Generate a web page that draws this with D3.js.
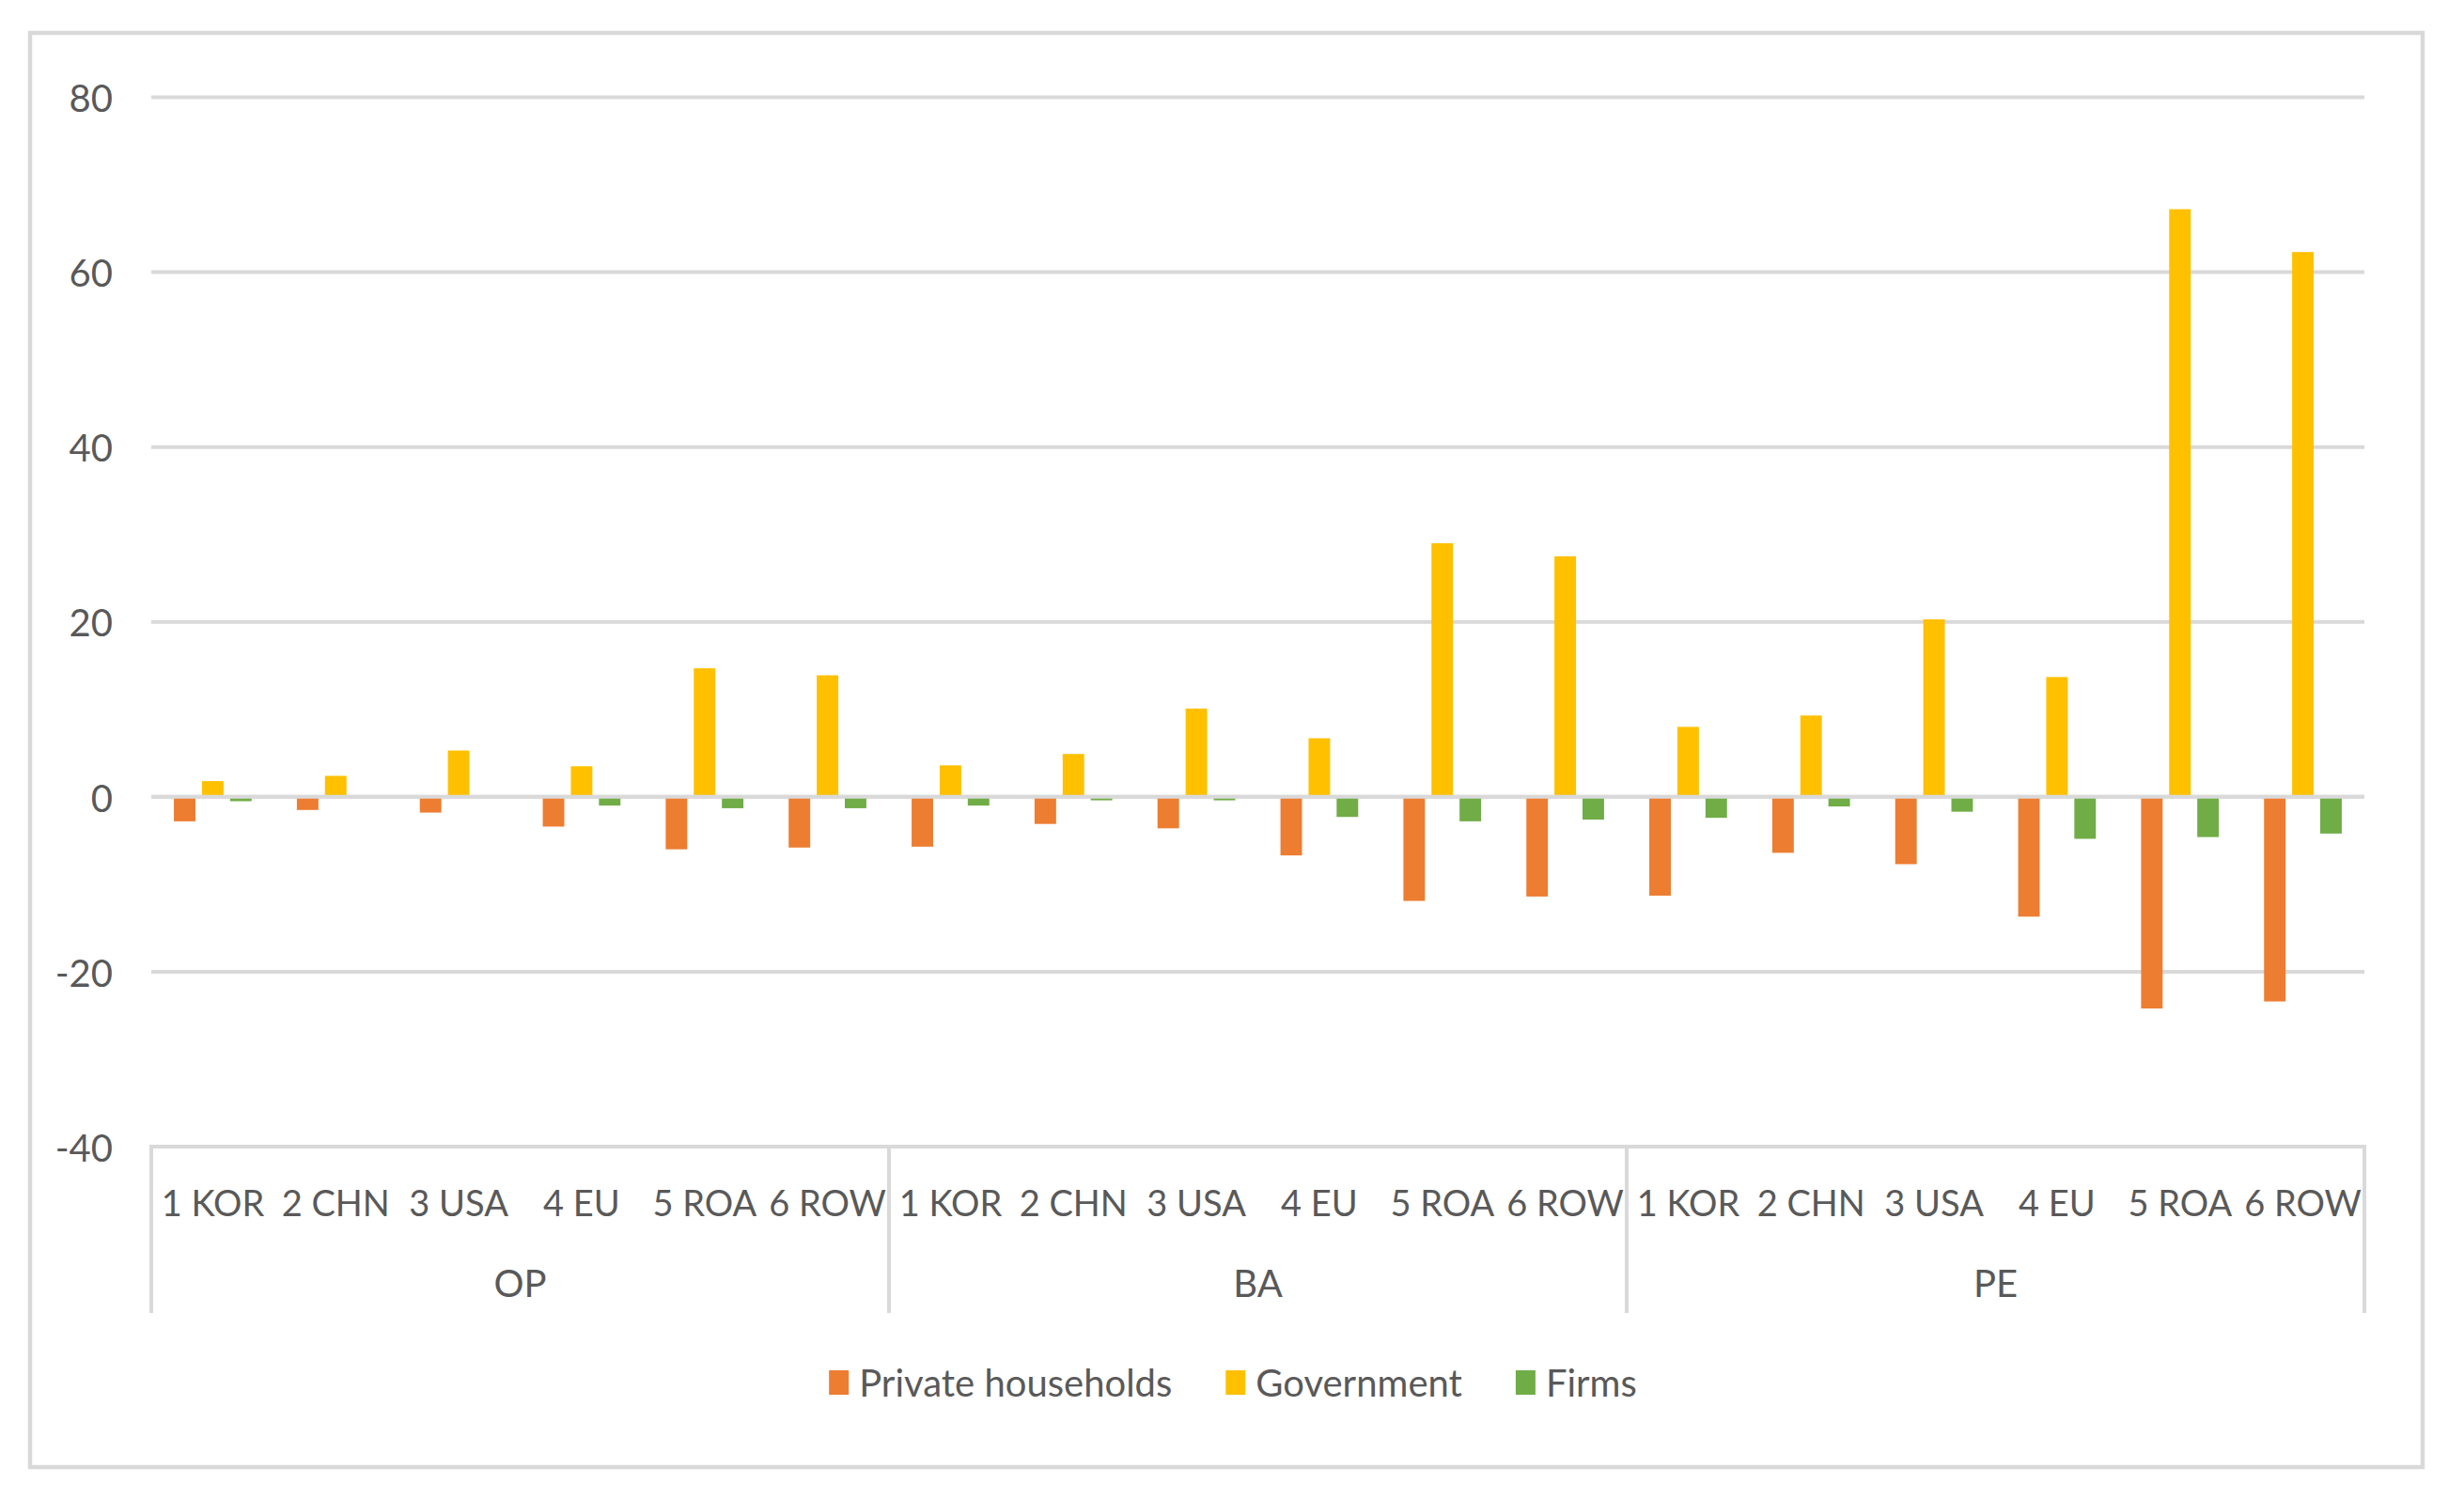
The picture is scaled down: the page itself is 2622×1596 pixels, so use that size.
<!DOCTYPE html>
<html>
<head>
<meta charset="utf-8">
<script src="https://cdn.jsdelivr.net/npm/d3@7"></script>
<style>
  html, body { margin: 0; padding: 0; background: #ffffff; }
  svg { display: block; }
  text { font-family: Lato, "Open Sans", sans-serif; fill: #595959; }
</style>
</head>
<body>
<svg id="chart" width="2622" height="1596"></svg>
<script>
// ---- data ----
const groups = ["OP", "BA", "PE"];
const countries = ["1 KOR", "2 CHN", "3 USA", "4 EU", "5 ROA", "6 ROW"];
const seriesNames = ["Private households", "Government", "Firms"];
const privateHouseholds = [
  -2.8, -1.5, -1.8, -3.4, -6.0, -5.8,
  -5.7, -3.1, -3.6, -6.7, -11.9, -11.4,
  -11.3, -6.4, -7.7, -13.7, -24.2, -23.4
];
const government = [
  1.8, 2.4, 5.3, 3.5, 14.7, 13.9,
  3.6, 4.9, 10.1, 6.7, 29.0, 27.5,
  8.0, 9.3, 20.3, 13.7, 67.2, 62.3
];
const firms = [
  -0.5, -0.1, -0.1, -1.0, -1.3, -1.3,
  -1.0, -0.4, -0.4, -2.3, -2.8, -2.6,
  -2.4, -1.1, -1.7, -4.8, -4.6, -4.2
];
const yTicks = [-40, -20, 0, 20, 40, 60, 80];
const colors = ["#ED7D31", "#FFC000", "#70AD47"];

// ---- build ----
const svg = d3.select("#chart");
const W = 2622, H = 1596;
const plot = { left: 161, right: 2516, top: 103.5, bottom: 1220 };

svg.append("rect").attr("x", 0).attr("y", 0).attr("width", W).attr("height", H).attr("fill", "#fff");
svg.append("rect")
  .attr("x", 32).attr("y", 35).attr("width", 2546).attr("height", 1526)
  .attr("fill", "none").attr("stroke", "#d9d9d9").attr("stroke-width", 4.5);

const categories = [];
groups.forEach(g => countries.forEach(c => categories.push(g + "|" + c)));
const values = [privateHouseholds, government, firms];

const y = d3.scaleLinear().domain([-40, 80]).range([plot.bottom, plot.top]);
const x0 = d3.scaleBand().domain(categories).range([plot.left, plot.right])
  .paddingInner(0.368).paddingOuter(0.184);
const x1 = d3.scaleBand().domain(seriesNames).range([0, x0.bandwidth()]).paddingInner(0.233);

// gridlines
const grid = svg.append("g");
grid.selectAll("line").data(yTicks).join("line")
  .attr("x1", plot.left).attr("x2", plot.right)
  .attr("y1", d => y(d)).attr("y2", d => y(d))
  .attr("stroke", "#d9d9d9").attr("stroke-width", 4);

// y-axis labels
const yAxis = d3.axisLeft(y).tickValues(yTicks).tickSize(0).tickPadding(0)
  .tickFormat(d => String(d));
const yg = svg.append("g").attr("transform", `translate(${plot.left - 41},0)`).call(yAxis);
yg.select(".domain").remove();
yg.selectAll("text").attr("font-size", 40).attr("dy", "0.38em")
  .style("font-family", "Lato, 'Open Sans', sans-serif").attr("fill", "#595959");

// bars
const barsG = svg.append("g");
categories.forEach((cat, i) => {
  seriesNames.forEach((s, k) => {
    const v = values[k][i];
    barsG.append("rect")
      .attr("x", x0(cat) + x1(s))
      .attr("width", x1.bandwidth())
      .attr("y", y(Math.max(0, v)))
      .attr("height", Math.abs(y(v) - y(0)))
      .attr("fill", colors[k]);
  });
});

// zero line on top
svg.append("line")
  .attr("x1", plot.left).attr("x2", plot.right)
  .attr("y1", y(0)).attr("y2", y(0))
  .attr("stroke", "#d9d9d9").attr("stroke-width", 4);

// category axis (multi-level)
const xAxis = d3.axisBottom(x0).tickSize(0).tickPadding(0).tickFormat(d => d.split("|")[1]);
const xg = svg.append("g").attr("transform", `translate(0,${plot.bottom})`).call(xAxis);
xg.select(".domain").remove();
xg.selectAll("text").attr("font-size", 38).attr("y", 74).attr("dy", 0)
  .style("font-family", "Lato, 'Open Sans', sans-serif").attr("fill", "#595959");

// group separators
const step = x0.step();
const boundaries = d3.range(groups.length + 1).map(i => plot.left + i * countries.length * step);
svg.append("g").selectAll("line").data(boundaries).join("line")
  .attr("x1", d => d).attr("x2", d => d)
  .attr("y1", plot.bottom - 2).attr("y2", 1397)
  .attr("stroke", "#d9d9d9").attr("stroke-width", 4);

// group labels
svg.append("g").selectAll("text").data(groups).join("text")
  .attr("x", (d, i) => (boundaries[i] + boundaries[i + 1]) / 2)
  .attr("y", 1380)
  .attr("text-anchor", "middle")
  .attr("font-size", 40)
  .text(d => d);

// legend
const legend = svg.append("g");
const items = legend.selectAll("g").data(seriesNames).join("g");
items.append("rect").attr("width", 21).attr("height", 26).attr("y", -14)
  .attr("fill", (d, i) => colors[i]);
items.append("text").attr("x", 32).attr("y", 0).attr("dy", "0.36em")
  .attr("font-size", 40).text(d => d);
let cx = 0;
const positions = [];
items.each(function () {
  const w = d3.select(this).select("text").node().getComputedTextLength();
  positions.push(cx);
  cx += 32 + w + 57;
});
const total = cx - 57;
const startX = 1312 - total / 2;
items.attr("transform", (d, i) => `translate(${startX + positions[i]},1472)`);
</script>
</body>
</html>
